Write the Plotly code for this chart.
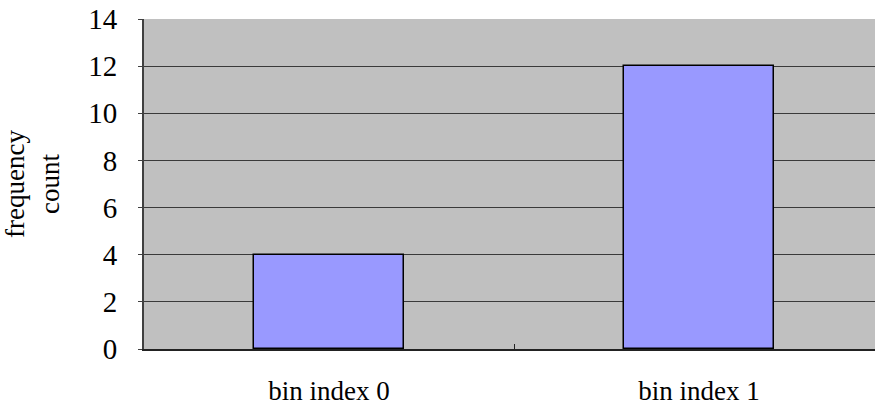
import plotly.graph_objects as go

# Histogram bin counts
categories = ["bin index 0", "bin index 1"]
counts = [4, 12]
y_ticks = [0, 2, 4, 6, 8, 10, 12, 14]

SERIF = "'Times New Roman', 'Liberation Serif', serif"

fig = go.Figure(
    go.Bar(
        x=categories,
        y=counts,
        width=0.405,
        marker=dict(color="#9999FF", line=dict(color="#000000", width=1.5)),
    )
)

fig.update_layout(
    width=875,
    height=409,
    margin=dict(l=144, r=0, t=19, b=60),
    paper_bgcolor="white",
    plot_bgcolor="#C0C0C0",
    font=dict(family=SERIF, size=27, color="black"),
    showlegend=False,
    bargap=0,
)

fig.update_xaxes(
    type="category",
    range=[-0.5, 1.4757],
    showgrid=False,
    showline=True,
    linecolor="#222222",
    linewidth=2,
    ticks="inside",
    tickson="boundaries",
    ticklen=5,
    tickcolor="#222222",
    ticklabelstandoff=17,
    tickfont=dict(family=SERIF, size=27, color="black"),
)

fig.update_yaxes(
    range=[0, 14],
    tickvals=y_ticks,
    showgrid=True,
    gridcolor="#3a3a3a",
    gridwidth=1,
    zeroline=False,
    showline=True,
    linecolor="#404040",
    linewidth=2,
    ticks="outside",
    ticklen=4,
    tickcolor="#404040",
    ticklabelstandoff=15,
    tickfont=dict(family=SERIF, size=29, color="black"),
    title=dict(text="frequency<br>count", font=dict(family=SERIF, size=27, color="black"), standoff=25),
)

fig.write_html("out.html")
